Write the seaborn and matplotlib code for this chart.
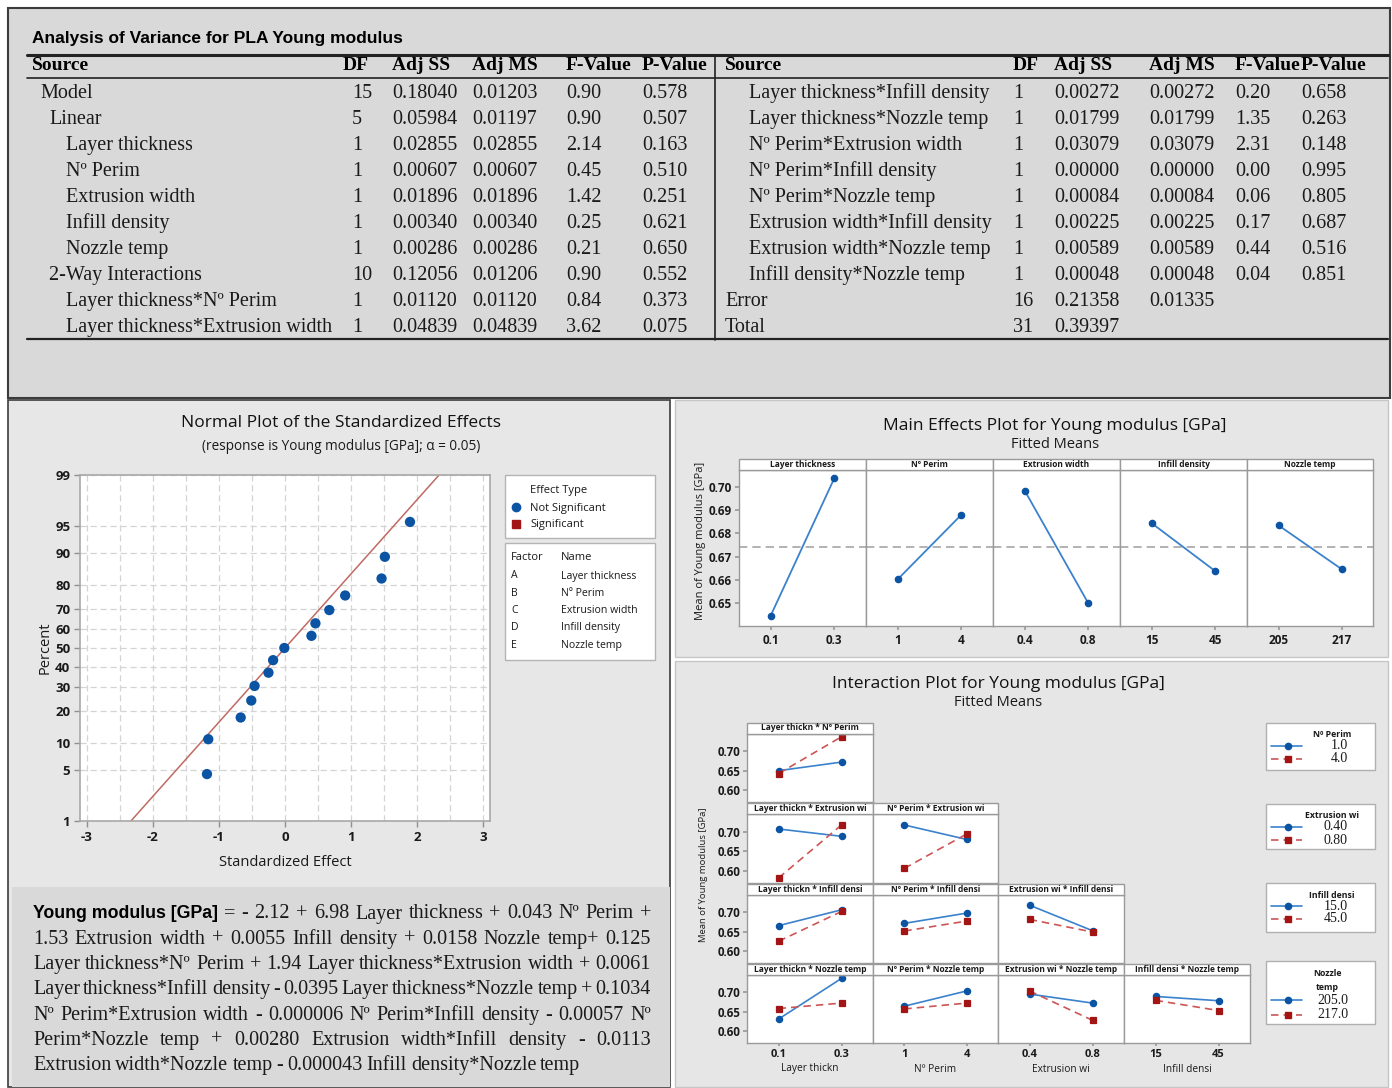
import numpy as np
import pandas as pd
import matplotlib
matplotlib.use("Agg")
import matplotlib.pyplot as plt
import seaborn as sns
from statistics import NormalDist
from matplotlib.patches import Rectangle
from matplotlib.lines import Line2D

# ======================= DATA =======================
anova_title = "Analysis of Variance for PLA Young modulus"
anova_cols = ["Source", "DF", "Adj SS", "Adj MS", "F-Value", "P-Value"]

left_source = ["Model", "Linear", "Layer thickness", "Nº Perim", "Extrusion width",
               "Infill density", "Nozzle temp", "2-Way Interactions",
               "Layer thickness*Nº Perim", "Layer thickness*Extrusion width"]
left_indent = [1, 2, 3, 3, 3, 3, 3, 2, 3, 3]
left_df = [15, 5, 1, 1, 1, 1, 1, 10, 1, 1]
left_ss = [0.18040, 0.05984, 0.02855, 0.00607, 0.01896, 0.00340, 0.00286, 0.12056, 0.01120, 0.04839]
left_ms = [0.01203, 0.01197, 0.02855, 0.00607, 0.01896, 0.00340, 0.00286, 0.01206, 0.01120, 0.04839]
left_f = [0.90, 0.90, 2.14, 0.45, 1.42, 0.25, 0.21, 0.90, 0.84, 3.62]
left_p = [0.578, 0.507, 0.163, 0.510, 0.251, 0.621, 0.650, 0.552, 0.373, 0.075]

right_source = ["Layer thickness*Infill density", "Layer thickness*Nozzle temp",
                "Nº Perim*Extrusion width", "Nº Perim*Infill density", "Nº Perim*Nozzle temp",
                "Extrusion width*Infill density", "Extrusion width*Nozzle temp",
                "Infill density*Nozzle temp", "Error", "Total"]
right_indent = [3, 3, 3, 3, 3, 3, 3, 3, 0, 0]
right_df = [1, 1, 1, 1, 1, 1, 1, 1, 16, 31]
right_ss = [0.00272, 0.01799, 0.03079, 0.00000, 0.00084, 0.00225, 0.00589, 0.00048, 0.21358, 0.39397]
right_ms = [0.00272, 0.01799, 0.03079, 0.00000, 0.00084, 0.00225, 0.00589, 0.00048, 0.01335, None]
right_f = [0.20, 1.35, 2.31, 0.00, 0.06, 0.17, 0.44, 0.04, None, None]
right_p = [0.658, 0.263, 0.148, 0.995, 0.805, 0.687, 0.516, 0.851, None, None]

# Normal plot of standardized effects
std_effect = [-1.18, -1.16, -0.67, -0.51, -0.46, -0.25, -0.18, -0.01,
              0.40, 0.46, 0.67, 0.91, 1.46, 1.51, 1.89]
effect_percent = [4.5, 11.0, 17.5, 24.0, 30.5, 37.0, 43.5, 50.0,
                  56.5, 63.0, 69.5, 76.0, 82.5, 89.0, 95.5]
ref_line_effect = [-2.33, 2.33]
ref_line_percent = [1, 99]
percent_ticks = [1, 5, 10, 20, 30, 40, 50, 60, 70, 80, 90, 95, 99]
effect_ticks = [-3, -2, -1, 0, 1, 2, 3]
factor_codes = ["A", "B", "C", "D", "E"]
factor_names = ["Layer thickness", "Nº Perim", "Extrusion width", "Infill density", "Nozzle temp"]

# Main effects plot
me_levels = [["0.1", "0.3"], ["1", "4"], ["0.4", "0.8"], ["15", "45"], ["205", "217"]]
me_means = [[0.6447, 0.7037], [0.6603, 0.6880], [0.6984, 0.6500], [0.6844, 0.6638], [0.6835, 0.6647]]
me_grand_mean = 0.6741
me_yticks = [0.65, 0.66, 0.67, 0.68, 0.69, 0.70]

# Interaction plot
ia_x_names = ["Layer thickn", "Nº Perim", "Extrusion wi", "Infill densi"]
ia_trace_names = ["Nº Perim", "Extrusion wi", "Infill densi", "Nozzle temp"]
ia_x_levels = [["0.1", "0.3"], ["1", "4"], ["0.4", "0.8"], ["15", "45"]]
ia_trace_levels = [["1.0", "4.0"], ["0.40", "0.80"], ["15.0", "45.0"], ["205.0", "217.0"]]
ia_panels = [(0, 0), (1, 0), (1, 1), (2, 0), (2, 1), (2, 2), (3, 0), (3, 1), (3, 2), (3, 3)]
ia_low_trace = [[0.650, 0.672], [0.7067, 0.688], [0.717, 0.680], [0.6653, 0.7059], [0.6712, 0.6975],
                [0.7178, 0.6525], [0.631, 0.735], [0.664, 0.703], [0.695, 0.672], [0.689, 0.678]]
ia_high_trace = [[0.6425, 0.7367], [0.5815, 0.717], [0.606, 0.694], [0.6254, 0.7017], [0.6517, 0.6771],
                 [0.6814, 0.6492], [0.658, 0.672], [0.657, 0.672], [0.703, 0.628], [0.679, 0.653]]
ia_yticks = [0.60, 0.65, 0.70]

# Regression equation
eq_lhs = "Young modulus [GPa]"
eq_lines = [
    "= - 2.12 + 6.98 Layer thickness + 0.043 Nº Perim +",
    "1.53 Extrusion width + 0.0055 Infill density + 0.0158 Nozzle temp+ 0.125",
    "Layer thickness*Nº Perim + 1.94 Layer thickness*Extrusion width + 0.0061",
    "Layer thickness*Infill density - 0.0395 Layer thickness*Nozzle temp + 0.1034",
    "Nº Perim*Extrusion width - 0.000006 Nº Perim*Infill density - 0.00057 Nº",
    "Perim*Nozzle temp + 0.00280 Extrusion width*Infill density - 0.0113",
    "Extrusion width*Nozzle temp - 0.000043 Infill density*Nozzle temp",
]

# ======================= STYLE =======================
W, H = 1392, 1088
sns.set_theme(style="white")
SANS = ["Open Sans", "DejaVu Sans"]
SERIF = ["Liberation Serif", "DejaVu Serif"]
ARIAL = ["Liberation Sans", "DejaVu Sans"]
plt.rcParams["font.family"] = SANS
plt.rcParams["axes.unicode_minus"] = False

BLUE_M = "#0b54a4"
BLUE_L = "#3b82cc"
RED_M = "#a31515"
RED_L = "#cc5555"
TXT = "#1a1a1a"

fig = plt.figure(figsize=(W / 100, H / 100), dpi=100)
fig.patch.set_facecolor("white")


def fx(x):
    return x / W


def fy(y):
    return 1 - y / H


def rect(x0, y0, x1, y1):
    return [x0 / W, 1 - y1 / H, (x1 - x0) / W, (y1 - y0) / H]


def box(x0, y0, x1, y1, fc, ec="none", lw=1.0, z=-10):
    fig.add_artist(Rectangle((fx(x0), fy(y1)), (x1 - x0) / W, (y1 - y0) / H,
                             transform=fig.transFigure, facecolor=fc, edgecolor=ec,
                             linewidth=lw, zorder=z))


def seg(x0, y0, x1, y1, color="#222222", lw=1.0, z=5, **kw):
    fig.add_artist(Line2D([fx(x0), fx(x1)], [fy(y0), fy(y1)], transform=fig.transFigure,
                          color=color, lw=lw, zorder=z, **kw))


def txt(x, y, s, **kw):
    kw.setdefault("va", "center")
    kw.setdefault("color", TXT)
    return fig.text(fx(x), fy(y), s, **kw)


# ======================= BACKGROUNDS =======================
box(8, 8, 1390, 398, "#d9d9d9", "#3c3c3c", 1.5)
box(8, 400, 670, 1087, "#e7e7e7", "#3c3c3c", 1.2)
box(12, 887, 670, 1087, "#d9d9d9")
box(675, 400, 1388, 657, "#e6e6e6", "#c6c6c6", 1.0)
box(675, 661, 1388, 1087, "#e6e6e6", "#c6c6c6", 1.0)

# ======================= ANOVA TABLE =======================
txt(32, 39, anova_title, family=ARIAL, fontsize=12.5, fontweight="bold", color="black")
seg(27, 55, 1388, 55, lw=2.2)
seg(27, 78, 1388, 78, lw=1.2)
seg(27, 339, 1388, 339, lw=1.6)
seg(715, 55, 715, 340, lw=1.2)

FS_T = 14.5
left_cols_x = [32, 343, 392, 472, 566, 642]
right_cols_x = [725, 1013, 1054, 1149, 1235, 1301]
for xs in (left_cols_x, right_cols_x):
    for cx, name in zip(xs, anova_cols):
        txt(cx, 66, name, family=SERIF, fontsize=FS_T - 0.5, fontweight="bold", color="black")

left_val_x = [352, 392, 472, 566, 642]
right_val_x = [1013, 1054, 1149, 1235, 1301]
left_indent_x = {1: 40, 2: 49, 3: 66}
right_indent_x = {0: 725, 3: 749}


def fmt(v, f):
    return "" if v is None else f.format(v)


def table_rows(sources, indents, dfs, sss, mss, fs, ps, ind_x, val_x):
    for i in range(len(sources)):
        y = 93.5 + 26 * i
        txt(ind_x[indents[i]], y, sources[i], family=SERIF, fontsize=FS_T)
        vals = [fmt(dfs[i], "{:d}"), fmt(sss[i], "{:.5f}"), fmt(mss[i], "{:.5f}"),
                fmt(fs[i], "{:.2f}"), fmt(ps[i], "{:.3f}")]
        for vx, v in zip(val_x, vals):
            txt(vx, y, v, family=SERIF, fontsize=FS_T)


table_rows(left_source, left_indent, left_df, left_ss, left_ms, left_f, left_p, left_indent_x, left_val_x)
table_rows(right_source, right_indent, right_df, right_ss, right_ms, right_f, right_p, right_indent_x, right_val_x)

# ======================= NORMAL PLOT =======================
nd = NormalDist()
z_of = lambda p: nd.inv_cdf(p / 100.0)
txt(341, 423, "Normal Plot of the Standardized Effects", fontsize=12.5, ha="center", color="#111111")
txt(341, 447, "(response is Young modulus [GPa]; α = 0.05)", fontsize=9.8, ha="center")

axn = fig.add_axes(rect(80, 475, 490, 821))
axn.set_facecolor("white")
norm_df = pd.DataFrame({"effect": std_effect, "z": [z_of(p) for p in effect_percent]})
sns.lineplot(x=ref_line_effect, y=[z_of(p) for p in ref_line_percent], color="#c06a62",
             lw=1.1, ax=axn, zorder=2)
sns.scatterplot(data=norm_df, x="effect", y="z", color=BLUE_M, s=55, edgecolor="none",
                ax=axn, zorder=3)
axn.set_xlim(-3.1, 3.1)
axn.set_ylim(z_of(1), z_of(99))
axn.set_yticks([z_of(p) for p in percent_ticks])
axn.set_yticklabels([str(p) for p in percent_ticks])
axn.set_xticks(effect_ticks)
axn.set_xticklabels([str(t) for t in effect_ticks])
axn.set_xticks(np.arange(-2.5, 3.0, 1.0), minor=True)
axn.grid(True, which="both", axis="x", ls=(0, (5, 3)), color="#d4d4d4", lw=0.9)
axn.grid(True, which="major", axis="y", ls=(0, (5, 3)), color="#d4d4d4", lw=0.9)
axn.set_axisbelow(True)
for s in axn.spines.values():
    s.set_color("#a8a8a8")
    s.set_linewidth(1.2)
axn.tick_params(axis="both", which="major", length=4, width=1, color="#909090",
                labelsize=9.5, pad=3, labelcolor=TXT, direction="out", left=True, bottom=True)
axn.tick_params(axis="x", which="minor", length=0)
for lab in axn.get_xticklabels() + axn.get_yticklabels():
    lab.set_fontweight("bold")
axn.set_xlabel("")
axn.set_ylabel("")
txt(285, 863, "Standardized Effect", fontsize=10.5, ha="center")
txt(45, 648, "Percent", fontsize=10.5, ha="center", rotation=90)

# legend boxes
box(505, 475, 655, 538, "white", "#b4b4b4", 1.0, z=1)
txt(530, 490, "Effect Type", fontsize=8)
fig.add_artist(Line2D([fx(516)], [fy(507)], transform=fig.transFigure, marker="o", ms=6,
                      color=BLUE_M, lw=0, zorder=3))
txt(530, 508, "Not Significant", fontsize=8)
fig.add_artist(Line2D([fx(516)], [fy(524)], transform=fig.transFigure, marker="s", ms=5.5,
                      color=RED_M, lw=0, zorder=3))
txt(530, 525, "Significant", fontsize=8)
box(505, 543, 655, 660, "white", "#b4b4b4", 1.0, z=1)
txt(511, 558, "Factor", fontsize=8)
txt(561, 558, "Name", fontsize=8)
for i, (c, n) in enumerate(zip(factor_codes, factor_names)):
    yy = 576 + 17.3 * i
    txt(511, yy, c, fontsize=7.6)
    txt(561, yy, n, fontsize=7.6)

# ======================= EQUATION =======================
renderer = fig.canvas.get_renderer()
EQ_L, EQ_R = 33, 651
for i, line in enumerate(eq_lines):
    y = 914 + 25.3 * i
    fs_serif = 14.5
    while True:
        items = []
        if i == 0:
            items.append(txt(0, y, eq_lhs, family=ARIAL, fontsize=12.8, fontweight="bold", color="black"))
        for w in line.split(" "):
            items.append(txt(0, y, w, family=SERIF, fontsize=fs_serif))
        widths = [t.get_window_extent(renderer).width for t in items]
        n = len(items)
        if i < len(eq_lines) - 1:
            gap = (EQ_R - EQ_L - sum(widths)) / (n - 1)
        else:
            gap = 4.0
        if gap >= 1.0 or fs_serif < 10:
            break
        for t in items:
            t.remove()
        fs_serif -= 0.1
    xx = EQ_L
    for t, w in zip(items, widths):
        t.set_x(fx(xx))
        xx += w + gap

# ======================= MAIN EFFECTS =======================
txt(1055, 426, "Main Effects Plot for Young modulus [GPa]", fontsize=12.5, ha="center", color="#111111")
txt(1055, 445, "Fitted Means", fontsize=10.5, ha="center")
txt(700, 541, "Mean of Young modulus [GPa]", fontsize=8, ha="center", rotation=90)
me_edges = [739, 866, 993, 1120, 1247, 1373]
for k in range(5):
    x0, x1 = me_edges[k], me_edges[k + 1]
    box(x0, 459, x1, 470, "white", "#9a9a9a", 1.0, z=1)
    txt((x0 + x1) / 2, 464.5, factor_names[k], fontsize=6, fontweight="bold", ha="center")
    ax = fig.add_axes(rect(x0, 470, x1, 626))
    ax.set_facecolor("white")
    ax.axhline(me_grand_mean, color="#a6a6a6", ls=(0, (5, 3)), lw=1.2, zorder=1)
    sns.pointplot(x=me_levels[k], y=me_means[k], color=BLUE_L, markers="o",
                  markersize=4.5, linewidth=1.3, errorbar=None, ax=ax)
    for ln in ax.lines:
        if ln.get_marker() == "o":
            ln.set_markerfacecolor(BLUE_M)
            ln.set_markeredgecolor(BLUE_M)
    ax.set_xlim(-0.5, 1.5)
    ax.set_ylim(0.6402, 0.7073)
    ax.set_yticks(me_yticks)
    ax.set_xlabel("")
    ax.set_ylabel("")
    for s in ax.spines.values():
        s.set_color("#9a9a9a")
        s.set_linewidth(1.0)
    ax.tick_params(axis="x", length=3, color="#9a9a9a", labelsize=8.5, pad=3, bottom=True)
    if k == 0:
        ax.set_yticklabels([f"{v:.2f}" for v in me_yticks])
        ax.tick_params(axis="y", length=3, color="#9a9a9a", labelsize=8.5, pad=2, left=True)
    else:
        ax.set_yticklabels([])
        ax.tick_params(axis="y", length=0)
    for lab in ax.get_xticklabels() + ax.get_yticklabels():
        lab.set_fontweight("bold")
        lab.set_color(TXT)

# ======================= INTERACTION =======================
txt(998, 684, "Interaction Plot for Young modulus [GPa]", fontsize=12.5, ha="center", color="#111111")
txt(998, 703, "Fitted Means", fontsize=10.5, ha="center")
txt(703, 875, "Mean of Young modulus [GPa]", fontsize=6.8, ha="center", rotation=90)
ia_cols = [747, 873, 998, 1124, 1250]
ia_rows = [722.5, 803, 883.5, 963.5]
PH = 79.5
for idx, (r, c) in enumerate(ia_panels):
    x0, x1 = ia_cols[c], ia_cols[c + 1]
    top = ia_rows[r]
    box(x0, top, x1, top + 11, "white", "#9a9a9a", 1.0, z=1)
    txt((x0 + x1) / 2, top + 5.5, f"{ia_x_names[c]} * {ia_trace_names[r]}", fontsize=6,
        fontweight="bold", ha="center")
    ax = fig.add_axes(rect(x0, top + 11, x1, top + PH))
    ax.set_facecolor("white")
    dfp = pd.DataFrame({
        "x": ia_x_levels[c] * 2,
        "y": ia_low_trace[idx] + ia_high_trace[idx],
        "trace": [ia_trace_levels[r][0]] * 2 + [ia_trace_levels[r][1]] * 2,
    })
    sns.pointplot(data=dfp, x="x", y="y", hue="trace", order=ia_x_levels[c],
                  hue_order=ia_trace_levels[r], palette=[BLUE_L, RED_L], markers=["o", "s"],
                  linestyles=["-", (0, (4.5, 3))], markersize=4.5, linewidth=1.2,
                  errorbar=None, legend=False, ax=ax)
    for ln in ax.lines:
        if ln.get_marker() == "o":
            ln.set_markerfacecolor(BLUE_M); ln.set_markeredgecolor(BLUE_M)
        elif ln.get_marker() == "s":
            ln.set_markerfacecolor(RED_M); ln.set_markeredgecolor(RED_M)
    ax.set_xlim(-0.5, 1.5)
    ax.set_ylim(0.57, 0.745)
    ax.set_yticks(ia_yticks)
    ax.set_xlabel("")
    ax.set_ylabel("")
    for s in ax.spines.values():
        s.set_color("#9a9a9a")
        s.set_linewidth(1.0)
    if c == 0:
        ax.set_yticklabels([f"{v:.2f}" for v in ia_yticks])
        ax.tick_params(axis="y", length=3, color="#9a9a9a", labelsize=8.3, pad=2, left=True)
    else:
        ax.set_yticklabels([])
        ax.tick_params(axis="y", length=0)
    if r == 3:
        ax.tick_params(axis="x", length=2.5, color="#9a9a9a", labelsize=8.0, pad=1.5, bottom=True)
        txt((x0 + x1) / 2, 1069, ia_x_names[c], fontsize=7.3, ha="center")
    else:
        ax.set_xticklabels([])
        ax.tick_params(axis="x", length=0)
    for lab in ax.get_xticklabels() + ax.get_yticklabels():
        lab.set_fontweight("bold")
        lab.set_color(TXT)

# interaction legends
leg_boxes = [(722.5, 770), (804, 849), (883, 932), (961, 1024)]
for r in range(4):
    y0, y1 = leg_boxes[r]
    box(1266, y0, 1375, y1, "white", "#b0b0b0", 1.0, z=1)
    if r == 3:
        txt(1327, y0 + 13, "Nozzle", fontsize=6.3, fontweight="bold", ha="center")
        txt(1327, y0 + 27, "temp", fontsize=6.3, fontweight="bold", ha="center")
        ly = [y0 + 39, y0 + 54]
    else:
        txt(1332, y0 + 12, ia_trace_names[r], fontsize=6.3, fontweight="bold", ha="center")
        ly = [y0 + 23, y0 + 36]
    for j, (col, mcol, mk, ls) in enumerate([(BLUE_L, BLUE_M, "o", "-"),
                                             (RED_L, RED_M, "s", (0, (4.5, 3)))]):
        seg(1271, ly[j], 1302, ly[j], color=col, lw=1.2, ls=ls)
        fig.add_artist(Line2D([fx(1288)], [fy(ly[j])], transform=fig.transFigure, marker=mk,
                              ms=4.5, color=mcol, lw=0, zorder=6))
        txt(1348, ly[j], ia_trace_levels[r][j], family=SERIF, fontsize=10, ha="right")

fig.savefig("out.png", dpi=100, facecolor="white")
